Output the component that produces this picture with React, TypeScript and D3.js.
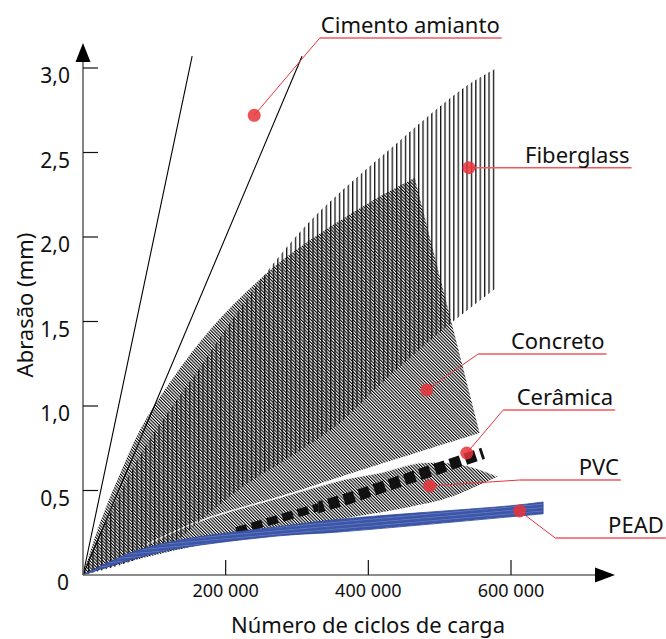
import React, { useEffect, useRef } from 'react';
import * as d3 from 'd3';

type Pt = [number, number];

// Cimento amianto: two straight bounding lines from the origin
const cimentoLeft: Pt[] = [[0, 0], [153000, 3.07]];
const cimentoRight: Pt[] = [[0, 0], [307000, 3.07]];

// Fiberglass band (vertical hatching)
const fiberTop: Pt[] = [[0, 0], [40000, 0.38], [87000, 0.76], [164000, 1.23], [248000, 1.74], [322000, 2.11], [444000, 2.57], [533000, 2.88], [580000, 3.0]];
const fiberBottom: Pt[] = [[0, 0], [60000, 0.07], [126000, 0.19], [175000, 0.36], [230000, 0.54], [280000, 0.67], [360000, 0.9], [420000, 1.14], [510000, 1.47], [580000, 1.7]];

// Concreto band (diagonal hatching)
const concretoTop: Pt[] = [[0, 0], [24000, 0.31], [48000, 0.56], [80000, 0.86], [122000, 1.14], [182000, 1.47], [248000, 1.75], [304000, 1.94], [400000, 2.2], [465000, 2.35]];
const concretoBottom: Pt[] = [[0, 0], [84000, 0.17], [164000, 0.32], [280000, 0.47], [360000, 0.58], [416000, 0.655], [556000, 0.84]];

// PVC band
const pvcTop: Pt[] = [[0, 0], [84000, 0.17], [164000, 0.32], [280000, 0.465], [360000, 0.56], [420000, 0.61], [472000, 0.665], [530000, 0.655], [582000, 0.585]];
const pvcBottom: Pt[] = [[0, 0], [84000, 0.1], [200000, 0.21], [300000, 0.285], [360000, 0.33], [454000, 0.4], [514000, 0.46], [582000, 0.585]];

// Cerâmica (thick dashed line)
const ceramica: Pt[] = [[215000, 0.26], [370000, 0.45], [561000, 0.72]];

// PEAD band (blue)
const peadTop: Pt[] = [[0, 0], [66000, 0.13], [136000, 0.207], [276000, 0.287], [360000, 0.33], [600000, 0.41], [645000, 0.432]];
const peadBottom: Pt[] = [[0, 0], [66000, 0.089], [136000, 0.158], [276000, 0.232], [360000, 0.255], [645000, 0.362]];

const xTicks = [200000, 400000, 600000];
const yTicks = [0.5, 1.0, 1.5, 2.0, 2.5, 3.0];

// callouts
const labels = ['Cimento amianto', 'Fiberglass', 'Concreto', 'Cerâmica', 'PVC', 'PEAD'];
const labelDots: Pt[] = [[240000, 2.72], [541000, 2.41], [482000, 1.095], [538000, 0.722], [486000, 0.527], [612000, 0.379]];
const labelElbows: Pt[] = [[332000, 3.178], [541000, 2.41], [554000, 1.308], [589000, 0.976], [612000, 0.562], [662000, 0.219]];
const labelEnds = [587000, 769000, 734000, 746000, 754000, 817000];

const W = 666, H = 639;
const FONT = '"Noto Sans", "DejaVu Sans", sans-serif';

export default function App() {
    const ref = useRef<SVGSVGElement>(null);

    useEffect(() => {
        const svg = d3.select(ref.current);
        svg.selectAll('*').remove();

        const x = d3.scaleLinear().domain([0, 600000]).range([83, 511]);
        const y = d3.scaleLinear().domain([0, 3]).range([575, 68]);

        const locale = d3.formatLocale({ decimal: ',', thousands: ' ', grouping: [3], currency: ['', ''] });
        const fx = locale.format(',');
        const fy = locale.format('.1f');

        const curve = d3.line<Pt>().x(d => x(d[0])).y(d => y(d[1])).curve(d3.curveCatmullRom.alpha(0.5));
        const straight = d3.line<Pt>().x(d => x(d[0])).y(d => y(d[1]));
        const region = (top: Pt[], bottom: Pt[]) =>
            curve(top) + (curve([...bottom].reverse()) as string).replace(/^M/, 'L') + 'Z';

        // patterns
        const defs = svg.append('defs');
        const diag = defs.append('pattern')
            .attr('id', 'diag')
            .attr('patternUnits', 'userSpaceOnUse')
            .attr('width', 2.3)
            .attr('height', 10)
            .attr('patternTransform', 'rotate(-45)');
        diag.append('rect').attr('width', 1.1).attr('height', 10).attr('fill', '#000');

        const vert = defs.append('pattern')
            .attr('id', 'vert')
            .attr('patternUnits', 'userSpaceOnUse')
            .attr('width', 4.4)
            .attr('height', 10);
        vert.append('rect').attr('width', 1.3).attr('height', 10).attr('fill', '#111');

        const blue = defs.append('pattern')
            .attr('id', 'blue')
            .attr('patternUnits', 'userSpaceOnUse')
            .attr('width', 10)
            .attr('height', 3.4)
            .attr('patternTransform', 'rotate(-5)');
        blue.append('rect').attr('width', 10).attr('height', 3.4).attr('fill', '#3b56a8');
        blue.append('rect').attr('y', 1.8).attr('width', 10).attr('height', 0.8).attr('fill', '#6579bf');

        // split for the dashed Cerâmica line: thinner dashes on the left
        const clipL = defs.append('clipPath').attr('id', 'cerL');
        clipL.append('rect').attr('x', 0).attr('y', 0).attr('width', x(330000)).attr('height', H);
        const clipR = defs.append('clipPath').attr('id', 'cerR');
        clipR.append('rect').attr('x', x(330000)).attr('y', 0).attr('width', W).attr('height', H);
        // light seam between Concreto and PVC, only away from the origin
        const clipSeam = defs.append('clipPath').attr('id', 'seam');
        clipSeam.append('rect').attr('x', x(90000)).attr('y', 0).attr('width', W).attr('height', H);

        const plot = svg.append('g');

        // Concreto
        plot.append('path')
            .attr('d', region(concretoTop, concretoBottom))
            .attr('fill', 'url(#diag)');

        // PVC
        plot.append('path')
            .attr('d', region(pvcTop, pvcBottom))
            .attr('fill', 'url(#diag)');
        plot.append('path')
            .attr('d', curve(pvcTop))
            .attr('clip-path', 'url(#seam)')
            .attr('fill', 'none')
            .attr('stroke', '#fff')
            .attr('stroke-opacity', 0.8)
            .attr('stroke-width', 1.6);

        // Fiberglass
        plot.append('path')
            .attr('d', region(fiberTop, fiberBottom))
            .attr('fill', 'url(#vert)');

        // Cerâmica
        plot.append('path')
            .attr('d', straight(ceramica))
            .attr('clip-path', 'url(#cerL)')
            .attr('fill', 'none')
            .attr('stroke', '#111')
            .attr('stroke-width', 8)
            .attr('stroke-dasharray', '11 5');
        plot.append('path')
            .attr('d', straight(ceramica))
            .attr('clip-path', 'url(#cerR)')
            .attr('fill', 'none')
            .attr('stroke', '#111')
            .attr('stroke-width', 11.5)
            .attr('stroke-dasharray', '11 5');

        // PEAD
        plot.append('path')
            .attr('d', region(peadTop, peadBottom))
            .attr('fill', 'url(#blue)')
            .attr('stroke', '#2f4795')
            .attr('stroke-width', 0.8);

        // Cimento amianto
        [cimentoLeft, cimentoRight].forEach(l => {
            plot.append('path')
                .attr('d', straight(l))
                .attr('fill', 'none')
                .attr('stroke', '#000')
                .attr('stroke-width', 1.1);
        });

        // axes
        const axis = svg.append('g');
        axis.append('line')
            .attr('x1', x(0)).attr('y1', y(0)).attr('x2', x(0)).attr('y2', 62)
            .attr('stroke', '#666').attr('stroke-width', 1.6);
        axis.append('line')
            .attr('x1', x(0)).attr('y1', y(0)).attr('x2', 596).attr('y2', y(0))
            .attr('stroke', '#666').attr('stroke-width', 1.6);
        axis.append('path')
            .attr('d', `M${x(0)},43L${x(0) - 7.5},62L${x(0) + 7.5},62Z`)
            .attr('fill', '#000');
        axis.append('path')
            .attr('d', `M615,${y(0)}L595,${y(0) - 7.5}L595,${y(0) + 7.5}Z`)
            .attr('fill', '#000');

        yTicks.forEach(t => {
            axis.append('line')
                .attr('x1', x(0)).attr('x2', x(0) + 15)
                .attr('y1', y(t)).attr('y2', y(t))
                .attr('stroke', '#111').attr('stroke-width', 1.2);
            axis.append('text')
                .attr('x', 70).attr('y', y(t) + 15)
                .attr('text-anchor', 'end')
                .attr('font-family', FONT).attr('font-size', 21)
                .attr('fill', '#111')
                .text(fy(t));
        });
        axis.append('text')
            .attr('x', 69).attr('y', y(0) + 15)
            .attr('text-anchor', 'end')
            .attr('font-family', FONT).attr('font-size', 21)
            .attr('fill', '#111')
            .text('0');

        xTicks.forEach(t => {
            axis.append('line')
                .attr('x1', x(t)).attr('x2', x(t))
                .attr('y1', y(0)).attr('y2', y(0) - 15)
                .attr('stroke', '#111').attr('stroke-width', 1.2);
            axis.append('text')
                .attr('x', x(t)).attr('y', y(0) + 22)
                .attr('text-anchor', 'middle')
                .attr('font-family', FONT).attr('font-size', 18)
                .attr('fill', '#111')
                .text(fx(t));
        });

        axis.append('text')
            .attr('x', 368).attr('y', 633)
            .attr('text-anchor', 'middle')
            .attr('font-family', FONT).attr('font-size', 22)
            .attr('fill', '#111')
            .text('Número de ciclos de carga');
        axis.append('text')
            .attr('transform', 'translate(33,305) rotate(-90)')
            .attr('text-anchor', 'middle')
            .attr('font-family', FONT).attr('font-size', 22)
            .attr('fill', '#111')
            .text('Abrasão (mm)');

        // callouts
        const notes = svg.append('g');
        labels.forEach((name, i) => {
            const d = labelDots[i], e = labelElbows[i];
            notes.append('line')
                .attr('x1', x(d[0])).attr('y1', y(d[1]))
                .attr('x2', x(e[0])).attr('y2', y(e[1]))
                .attr('stroke', '#e8343a').attr('stroke-width', 1);
            notes.append('line')
                .attr('x1', x(e[0])).attr('y1', y(e[1]))
                .attr('x2', x(labelEnds[i])).attr('y2', y(e[1]))
                .attr('stroke', '#ef5a5e').attr('stroke-width', 1.5);
            notes.append('circle')
                .attr('cx', x(d[0])).attr('cy', y(d[1]))
                .attr('r', 6.5)
                .attr('fill', '#e8343a').attr('fill-opacity', 0.85);
            notes.append('text')
                .attr('x', x(labelEnds[i]) - 2).attr('y', y(e[1]) - 5)
                .attr('text-anchor', 'end')
                .attr('font-family', FONT).attr('font-size', 22)
                .attr('fill', '#111')
                .text(name);
        });
    }, []);

    return (
        <svg ref={ref} width={W} height={H}
             style={{ position: 'absolute', left: 0, top: 0, background: '#fff' }} />
    );
}
